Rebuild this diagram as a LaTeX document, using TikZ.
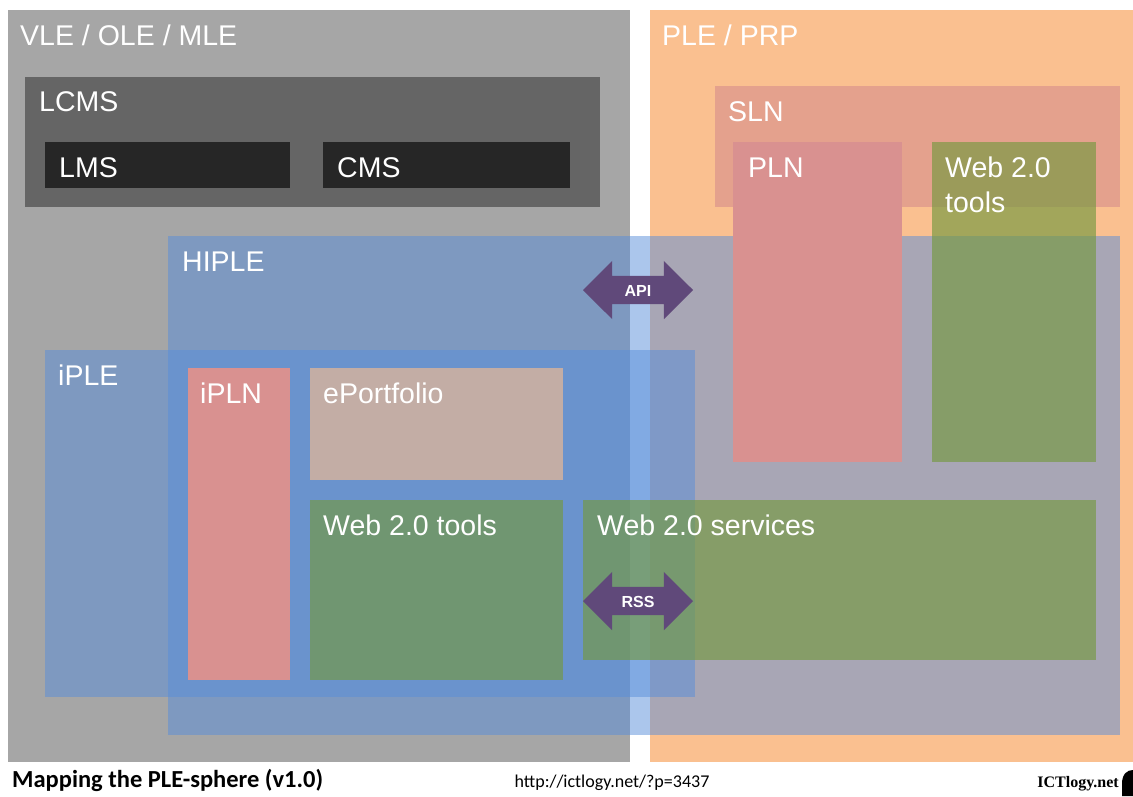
\documentclass[tikz,border=0pt]{standalone}
\usepackage{fontspec}
\setmainfont{Liberation Sans}
\newfontfamily\calibrifont{Carlito}
\newfontfamily\timesfont{Liberation Serif}
\usetikzlibrary{shapes.arrows}
\definecolor{vlegray}{RGB}{166,166,166}
\definecolor{pleorange}{RGB}{250,192,144}
\definecolor{lcmsgray}{RGB}{101,101,101}
\definecolor{lmsblack}{RGB}{38,38,38}
\definecolor{slnred}{RGB}{228,161,141}
\definecolor{plnpink}{RGB}{217,145,144}
\definecolor{portfoliotan}{RGB}{195,173,165}
\definecolor{hipleblue}{RGB}{88,142,218}
\definecolor{webgreen}{RGB}{116,153,64}
\definecolor{linkpurple}{RGB}{96,73,122}

\tikzset{
  boxlabel/.style={text=white, anchor=base west, inner sep=0pt, font=\fontsize{28.5}{35}\selectfont},
  blueveil/.style={fill=hipleblue, fill opacity=0.5},
  greenveil/.style={fill=webgreen, fill opacity=0.65},
  linkarrow/.style={double arrow, fill=linkpurple, text=white,
    font=\bfseries\fontsize{16}{18}\selectfont, double arrow head extend=15pt,
    minimum height=110pt, inner xsep=0pt, inner ysep=8pt, text height=12pt, text depth=0pt}
}

\begin{document}
\begin{tikzpicture}[x=1pt, y=-1pt]
    \useasboundingbox (0,0) rectangle (1133,796);

    % institutional side
    \fill[vlegray] (8,10) rectangle (630,762);
    \node (vle) [boxlabel] at (20,45) {VLE / OLE / MLE};
    \fill[lcmsgray] (25,77) rectangle (600,207);
    \node (lcms) [boxlabel] at (39,111) {LCMS};
    \fill[lmsblack] (45,142) rectangle (290,188);
    \node (lms) [boxlabel] at (59,177) {LMS};
    \fill[lmsblack] (323,142) rectangle (570,188);
    \node (cms) [boxlabel] at (337,177) {CMS};

    % personal side
    \fill[pleorange] (650,10) rectangle (1133,762);
    \node (ple) [boxlabel] at (662,45) {PLE / PRP};
    \fill[slnred] (715,86) rectangle (1120,207);
    \node (sln) [boxlabel] at (728,121) {SLN};

    % hybrid and institutional PLE
    \fill[blueveil] (168,236) rectangle (1120,735);
    \node (hiple) [boxlabel] at (182,271) {HIPLE};
    \fill[blueveil] (45,350) rectangle (695,697);
    \node (iple) [boxlabel] at (58,385) {iPLE};

    % networks
    \fill[plnpink] (733,142) rectangle (902,462);
    \node (pln) [boxlabel] at (748,177) {PLN};
    \fill[plnpink] (188,368) rectangle (290,680);
    \node (ipln) [boxlabel] at (200,403) {iPLN};
    \fill[portfoliotan] (310,368) rectangle (563,480);
    \node (eport) [boxlabel] at (323,403) {ePortfolio};

    % tools and services
    \fill[greenveil] (932,142) rectangle (1096,462);
    \node (webtoolsr) [boxlabel, anchor=north west, align=left] at (945,157) {Web 2.0\\tools};
    \fill[greenveil] (310,500) rectangle (563,680);
    \node (webtoolsl) [boxlabel] at (323,535) {Web 2.0 tools};
    \fill[greenveil] (583,500) rectangle (1096,660);
    \node (websvc) [boxlabel] at (597,535) {Web 2.0 services};

    % links
    \node (api) [linkarrow] at (638,290) {API};
    \node (rss) [linkarrow] at (638,601) {RSS};

    % footer
    \node (title) [anchor=base west, inner sep=0pt, font=\calibrifont\bfseries\fontsize{24.5}{28}\selectfont] at (12,787) {Mapping the PLE-sphere (v1.0)};
    \node (url) [anchor=base, inner sep=0pt, font=\calibrifont\fontsize{18}{21}\selectfont] at (612,787) {http://ictlogy.net/?p=3437};
    \node (site) [anchor=base east, inner sep=0pt, font=\timesfont\bfseries\fontsize{16}{19}\selectfont] at (1119,787) {ICTlogy.net};
    \fill (1122,796) -- (1122,784) .. controls (1122,774) and (1127,770) .. (1133,770) -- (1133,796) -- cycle;
\end{tikzpicture}
\end{document}
